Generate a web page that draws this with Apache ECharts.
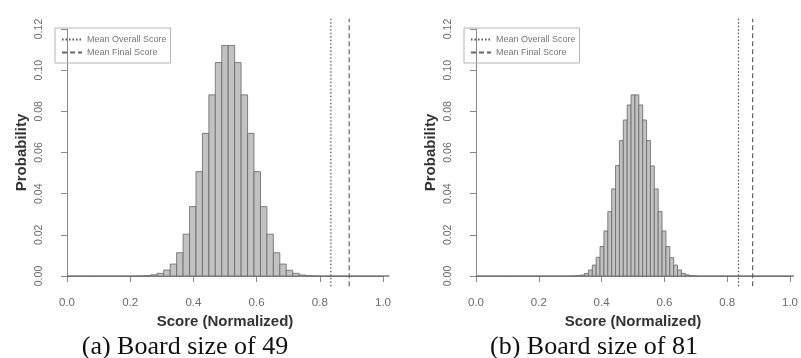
<!DOCTYPE html>
<html>
<head>
<meta charset="utf-8">
<script src="https://cdn.jsdelivr.net/npm/echarts@6/dist/echarts.min.js"></script>
<style>
  html, body { margin: 0; padding: 0; background: #fff; }
  #chart { width: 801px; height: 358px; }
</style>
</head>
<body>
<div id="chart"></div>
<script>
// --- data ---
// bin probabilities, board size 49 (bins of width 1/49, starting at 0)
const probs49 = [
  0, 0, 0, 0, 0, 0, 0, 0, 0, 0,
  0, 0.0001, 0.0002, 0.0006, 0.0013, 0.0029, 0.0058, 0.0113, 0.0203, 0.0337,
  0.0507, 0.0693, 0.088, 0.1037, 0.112, 0.112, 0.1037, 0.088, 0.0693, 0.0507,
  0.0337, 0.0203, 0.0113, 0.0058, 0.0028, 0.0013, 0.0005, 0.0002, 0.0001, 0,
  0, 0, 0, 0, 0, 0, 0, 0, 0, 0
];
// bin probabilities, board size 81 (bins of width 1/81, starting at 0)
const probs81 = [
  0, 0, 0, 0, 0, 0, 0, 0, 0, 0,
  0, 0, 0, 0, 0, 0, 0, 0, 0, 0,
  0, 0, 0, 0, 0, 0.0001, 0.0002, 0.0005, 0.0012, 0.0029,
  0.0053, 0.0091, 0.0143, 0.0219, 0.0313, 0.0423, 0.0537, 0.0658, 0.0758, 0.0831,
  0.088, 0.088, 0.0831, 0.0758, 0.0658, 0.0535, 0.0423, 0.0313, 0.0219, 0.0143,
  0.0089, 0.0053, 0.0029, 0.0013, 0.0006, 0.0002, 0.0001, 0, 0, 0,
  0, 0, 0, 0, 0, 0, 0, 0, 0, 0,
  0, 0, 0, 0, 0, 0, 0, 0, 0, 0,
  0, 0
];
const boardSizes = [49, 81];
const meanOverall = [0.835, 0.836];
const meanFinal = [0.893, 0.881];
const captions = ['(a) Board size of 49', '(b) Board size of 81'];
const legendNames = ['Mean Overall Score', 'Mean Final Score'];

// --- layout ---
const panelLeft = [67, 476];
const panelWidth = 316;
const AXIS_COL = '#8a8a8a';
const LABEL_COL = '#6b6b6b';
const FONT = 'Liberation Sans, Arial, sans-serif';

function toBins(probs, n) {
  return probs.map((p, k) => [k / n, (k + 1) / n, p]);
}

function renderBin(params, api) {
  const p0 = api.coord([api.value(0), 0]);
  const p1 = api.coord([api.value(1), api.value(2)]);
  return {
    type: 'rect',
    shape: { x: p0[0], y: p1[1], width: p1[0] - p0[0], height: p0[1] - p1[1] },
    style: { fill: '#c2c2c2', stroke: '#666', lineWidth: 0.8 }
  };
}

const grids = [], xAxes = [], yAxes = [], series = [], legends = [], titles = [];

[probs49, probs81].forEach((probs, i) => {
  grids.push({ left: panelLeft[i], width: panelWidth, top: 29, height: 247 });

  xAxes.push({
    gridIndex: i, type: 'value', min: 0, max: 1, interval: 0.2, offset: 11,
    name: 'Score (Normalized)', nameLocation: 'middle', nameGap: 25,
    nameTextStyle: { fontFamily: FONT, fontWeight: 'bold', fontSize: 15, color: '#333' },
    axisLine: { show: true, lineStyle: { color: AXIS_COL, width: 1 } },
    axisTick: { show: true, length: 6, lineStyle: { color: AXIS_COL } },
    axisLabel: {
      margin: 10, fontFamily: FONT, fontSize: 11.5, color: LABEL_COL,
      formatter: v => v.toFixed(1)
    },
    splitLine: { show: false }
  });

  yAxes.push({
    gridIndex: i, type: 'value', min: 0, max: 0.12, interval: 0.02, offset: 14,
    name: 'Probability', nameLocation: 'middle', nameGap: 24, nameRotate: 90,
    nameTextStyle: { fontFamily: FONT, fontWeight: 'bold', fontSize: 15, color: '#333' },
    axisLine: { show: true, lineStyle: { color: AXIS_COL, width: 1 } },
    axisTick: { show: true, length: 6, lineStyle: { color: AXIS_COL } },
    axisLabel: {
      rotate: 90, margin: 8, fontFamily: FONT, fontSize: 10.5, color: LABEL_COL,
      formatter: v => v.toFixed(2)
    },
    splitLine: { show: false }
  });

  series.push({
    type: 'custom', xAxisIndex: i, yAxisIndex: i,
    renderItem: renderBin, encode: { x: [0, 1], y: 2 },
    data: toBins(probs, boardSizes[i]), silent: true
  });

  series.push({
    type: 'line', name: legendNames[0], xAxisIndex: i, yAxisIndex: i,
    data: [[meanOverall[i], -0.005], [meanOverall[i], 0.125]],
    symbol: 'none', clip: false, silent: true,
    itemStyle: { color: '#555' },
    lineStyle: { color: '#555', width: 1.2, type: [1.5, 2] }
  });
  series.push({
    type: 'line', name: legendNames[1], xAxisIndex: i, yAxisIndex: i,
    data: [[meanFinal[i], -0.005], [meanFinal[i], 0.125]],
    symbol: 'none', clip: false, silent: true,
    itemStyle: { color: '#666' },
    lineStyle: { color: '#666', width: 1.2, type: [5, 3] }
  });

  legends.push({
    left: panelLeft[i] - 12, top: 28, orient: 'vertical', data: legendNames,
    itemWidth: 20, itemHeight: 8, itemGap: 4, padding: [7, 4, 6, 6],
    borderColor: '#b5b5b5', borderWidth: 1, selectedMode: false,
    itemStyle: { opacity: 0 },
    textStyle: { fontFamily: FONT, fontSize: 9, color: '#777' }
  });

  titles.push({
    text: captions[i], left: panelLeft[i] + 118, top: 334, textAlign: 'center', padding: 0,
    textStyle: { fontFamily: 'Liberation Serif, Times New Roman, serif', fontWeight: 'normal', fontSize: 26, color: '#111' }
  });
});

const chart = echarts.init(document.getElementById('chart'));
chart.setOption({
  animation: false,
  title: titles,
  legend: legends,
  grid: grids,
  xAxis: xAxes,
  yAxis: yAxes,
  series: series
});
</script>
</body>
</html>
